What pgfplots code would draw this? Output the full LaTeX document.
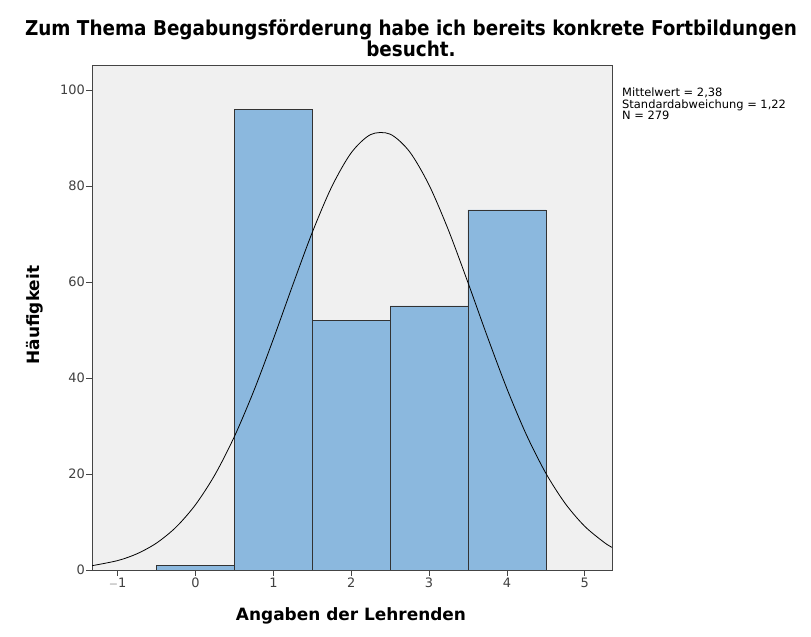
\documentclass[border=0pt]{standalone}
\usepackage{pgfplots}
\pgfplotsset{compat=1.18}
\usepackage{fontspec}
\setmainfont{DejaVu Sans}
\newfontfamily\condfont{DejaVu Sans Condensed}
\definecolor{barblue}{HTML}{8BB8DE}
\definecolor{bggray}{HTML}{F0F0F0}
\definecolor{framegray}{HTML}{444444}
\begin{document}
\begin{tikzpicture}[x=1bp,y=1bp]
\useasboundingbox (0,0) rectangle (811,637);
\node[font=\condfont\bfseries\fontsize{20.5}{17}\selectfont, align=center, inner sep=0pt] at (411,599)
  {Zum Thema Begabungsförderung habe ich bereits konkrete Fortbildungen\\besucht.};
\begin{axis}[
  at={(92bp,67bp)}, anchor=south west,
  scale only axis, width=520bp, height=505bp,
  xmin=-1.33, xmax=5.35, ymin=0, ymax=105.2,
  axis background/.style={fill=bggray},
  axis line style={framegray, line width=0.8pt},
  xtick={-1,0,1,2,3,4,5}, ytick={0,20,40,60,80,100},
  tick align=outside, tick pos=left,
  major tick length=6bp,
  tick style={framegray, line width=0.8pt},
  tick label style={font=\fontsize{13}{13}\selectfont, text=black!75},
  /pgf/number format/assume math mode=true,
  xticklabels={$-$1,0,1,2,3,4,5},
  yticklabel style={inner sep=1bp},
  xticklabel style={inner sep=2bp},
  clip=true,
]
\addplot[ybar interval, fill=barblue, draw=black!80, line width=0.6pt] coordinates {
  (-0.5,1) (0.5,96) (1.5,52) (2.5,55) (3.5,75) (4.5,0)
};
\addplot[black, line width=0.8pt, smooth, no markers] coordinates {
  (-1.33,0.895) (-1.0,1.964) (-0.75,3.396) (-0.5,5.625) (-0.25,8.934)
  (0.0,13.61) (0.25,19.87) (0.5,27.83) (0.75,37.37) (1.0,48.12)
  (1.25,59.41) (1.5,70.34) (1.75,79.84) (2.0,86.91) (2.25,90.71)
  (2.5,90.79) (2.75,87.13) (3.0,80.18) (3.25,70.75)
  (3.5,59.86) (3.75,48.56) (4.0,37.78) (4.25,28.18) (4.5,20.16)
  (4.75,13.83) (5.0,9.093) (5.25,5.734) (5.35,4.713)
};
\end{axis}
\node[font=\bfseries\fontsize{17}{17}\selectfont, rotate=90, inner sep=0pt] at (35,322) {Häufigkeit};
\node[font=\bfseries\fontsize{17}{17}\selectfont, inner sep=0pt] at (351,21) {Angaben der Lehrenden};
\node[anchor=north west, align=left, inner sep=0pt, font=\fontsize{11.5}{11.5}\selectfont] at (622,549)
  {Mittelwert = 2,38\\Standardabweichung = 1,22\\N = 279};
\end{tikzpicture}
\end{document}
